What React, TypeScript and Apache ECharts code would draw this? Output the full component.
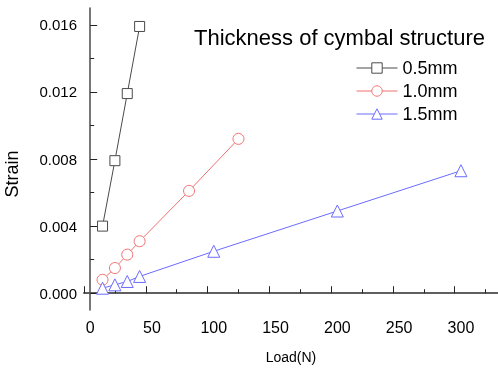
import React, { useEffect, useRef } from "react";
import * as echarts from "echarts";

const seriesNames = ["0.5mm", "1.0mm", "1.5mm"];
const load05 = [10, 20, 30, 40];
const strain05 = [0.004, 0.0079, 0.0119, 0.0159];
const load10 = [10, 20, 30, 40, 80, 120];
const strain10 = [0.0008, 0.0015, 0.0023, 0.0031, 0.0061, 0.0092];
const load15 = [10, 20, 30, 40, 100, 200, 300];
const strain15 = [0.0003, 0.0005, 0.0007, 0.001, 0.0025, 0.0049, 0.0073];
const colors = ["#4a4a4a", "#f07070", "#6b6bff"];
const symbols = ["rect", "circle", "triangle"];
const symbolSizes = [10, 11, 12];

const FONT = "'Liberation Sans', Arial, sans-serif";

export default function App() {
  const ref = useRef<HTMLDivElement>(null);
  useEffect(() => {
    if (!ref.current) return;
    const chart = echarts.init(ref.current, undefined, { renderer: "svg" });
    const xs = [load05, load10, load15];
    const ys = [strain05, strain10, strain15];
    const series = seriesNames.map((name, i) => ({
      name,
      type: "line",
      data: xs[i].map((x, j) => [x, ys[i][j]]),
      symbol: symbols[i],
      symbolSize: symbolSizes[i],
      showAllSymbol: true,
      lineStyle: { color: colors[i], width: 1 },
      itemStyle: { color: "#ffffff", borderColor: colors[i], borderWidth: 1 },
      emphasis: { disabled: true },
    }));
    const axisLine = { show: true, lineStyle: { color: "#555", width: 1.6 } };
    chart.setOption({
      animation: false,
      textStyle: { fontFamily: FONT },
      title: {
        text: "Thickness of cymbal structure",
        left: 189,
        top: 21,
        textStyle: { fontSize: 22, fontWeight: "normal", color: "#000", fontFamily: FONT },
      },
      legend: {
        orient: "vertical",
        left: 356,
        top: 59,
        padding: 0,
        itemWidth: 41,
        itemHeight: 13,
        itemGap: 5,
        itemStyle: { borderWidth: 1 },
        lineStyle: { width: 1 },
        textStyle: { fontSize: 18, color: "#000", fontFamily: FONT },
        data: seriesNames,
      },
      grid: { left: 84, top: 8, width: 415, height: 307, containLabel: false },
      xAxis: [
        {
          type: "value",
          min: -5,
          max: 330,
          interval: 50,
          position: "bottom",
          axisLine,
          axisTick: { show: true, inside: true, length: 7, lineStyle: { color: "#222" } },
          minorTick: { show: true, splitNumber: 2, length: 4, lineStyle: { color: "#222" } },
          axisLabel: {
            fontSize: 16,
            color: "#000",
            margin: 9,
            fontFamily: FONT,
            customValues: [0, 50, 100, 150, 200, 250, 300],
          },
          splitLine: { show: false },
          name: "Load(N)",
          nameLocation: "middle",
          nameGap: 40,
          nameTextStyle: { fontSize: 14, color: "#000", fontFamily: FONT },
        },
        {
          type: "value",
          min: -5,
          max: 330,
          position: "top",
          axisLine,
          axisTick: { show: false },
          axisLabel: { show: false },
          splitLine: { show: false },
        },
      ],
      yAxis: [
        {
          type: "value",
          min: -0.001,
          max: 0.017,
          position: "left",
          axisLine,
          axisTick: {
            show: true,
            inside: true,
            length: 7,
            lineStyle: { color: "#222" },
            customValues: [0, 0.004, 0.008, 0.012, 0.016],
          },
          minorTick: { show: false },
          axisLabel: {
            fontSize: 15,
            color: "#000",
            margin: 7,
            fontFamily: FONT,
            customValues: [0, 0.004, 0.008, 0.012, 0.016],
            formatter: (v: number) => v.toFixed(3),
          },
          splitLine: { show: false },
        },
        {
          type: "value",
          min: -0.001,
          max: 0.017,
          position: "left",
          axisLine: { show: false },
          axisTick: {
            show: true,
            inside: true,
            length: 4,
            lineStyle: { color: "#222" },
            customValues: [0.002, 0.006, 0.01, 0.014],
          },
          axisLabel: { show: false },
          splitLine: { show: false },
        },
      ],
      graphic: [
        {
          type: "text",
          x: 12,
          y: 174,
          rotation: Math.PI / 2,
          style: {
            text: "Strain",
            fontSize: 18,
            fontFamily: FONT,
            fill: "#000",
            align: "center",
            verticalAlign: "middle",
          },
        },
      ],
      series,
    });
    return () => chart.dispose();
  }, []);
  return <div ref={ref} style={{ width: 498, height: 369, position: "fixed", left: 0, top: 0 }} />;
}
